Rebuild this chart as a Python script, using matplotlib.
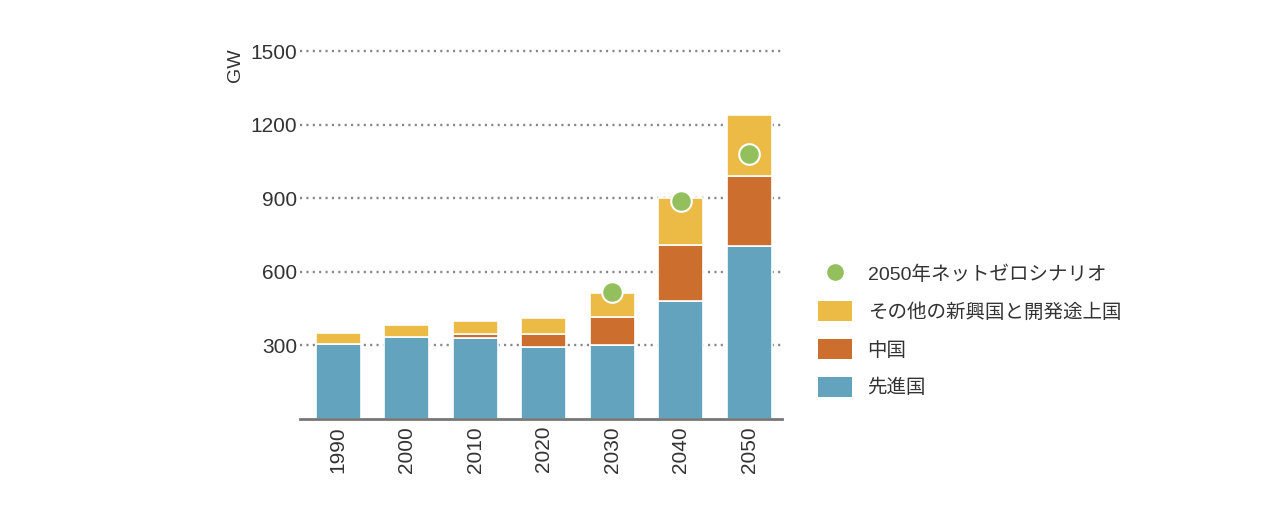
import matplotlib
matplotlib.use("Agg")
from matplotlib import pyplot as plt
from matplotlib.patches import Patch
from matplotlib.lines import Line2D
import numpy as np

plt.rcParams['font.family'] = ['Liberation Sans', 'Noto Sans CJK JP', 'DejaVu Sans']

years = ['1990', '2000', '2010', '2020', '2030', '2040', '2050']
advanced = [307, 334, 331, 295, 301, 483, 707]
china = [0, 0, 17, 53, 116, 228, 286]
others = [45, 50, 51, 63, 98, 190, 247]
netzero_x = [4, 5, 6]
netzero = [517, 891, 1080]

labels = ['2050年ネットゼロシナリオ', 'その他の新興国と開発途上国', '中国', '先進国']

c_blue = '#63a3bd'
c_orange = '#cc6f2e'
c_yellow = '#ecbb45'
c_green = '#93c05c'
c_text = '#333333'

fig = plt.figure(figsize=(12.62, 5.12), dpi=100)
ax = fig.add_axes([0.2377, 0.1816, 0.382, 0.7255])

x = np.arange(len(years))
w = 0.66
adv = np.array(advanced)
chn = np.array(china)
oth = np.array(others)
ax.bar(x, adv, w, color=c_blue, edgecolor='white', linewidth=1.2, zorder=2)
ax.bar(x, chn, w, bottom=adv, color=c_orange, edgecolor='white', linewidth=1.2, zorder=2)
ax.bar(x, oth, w, bottom=adv + chn, color=c_yellow, edgecolor='white', linewidth=1.2, zorder=2)
ax.scatter(netzero_x, netzero, s=220, color=c_green, edgecolor='white', linewidth=1.5, zorder=3)

ax.set_xlim(-0.56, 6.48)
ax.set_ylim(0, 1515)
ax.set_yticks([300, 600, 900, 1200, 1500])
ax.yaxis.grid(True, linestyle=(0, (0.9, 1.8)), color='#888888', linewidth=1.7, zorder=0)
ax.set_axisbelow(True)
ax.set_xticks(x)
ax.set_xticklabels(years, rotation=90)
ax.tick_params(axis='both', length=0, labelsize=15, colors=c_text)
ax.tick_params(axis='y', pad=2)
ax.tick_params(axis='x', pad=5)
for s in ['left', 'right', 'top']:
    ax.spines[s].set_visible(False)
ax.spines['bottom'].set_color('#777777')
ax.spines['bottom'].set_linewidth(2)

fig.text(0.187, 0.872, 'GW', rotation=90, fontsize=14, color=c_text, ha='center', va='center')

handles = [
    Line2D([0], [0], marker='o', linestyle='none', markersize=13, markerfacecolor=c_green,
           markeredgecolor='white'),
    Patch(facecolor=c_yellow),
    Patch(facecolor=c_orange),
    Patch(facecolor=c_blue),
]
fig.legend(handles, labels, loc='upper left', bbox_to_anchor=(0.642, 0.5), frameon=False,
           fontsize=14, handlelength=1.75, handleheight=1.2, handletextpad=0.8,
           labelspacing=0.88, labelcolor=c_text, borderaxespad=0)

fig.savefig('out.png', dpi=100)
